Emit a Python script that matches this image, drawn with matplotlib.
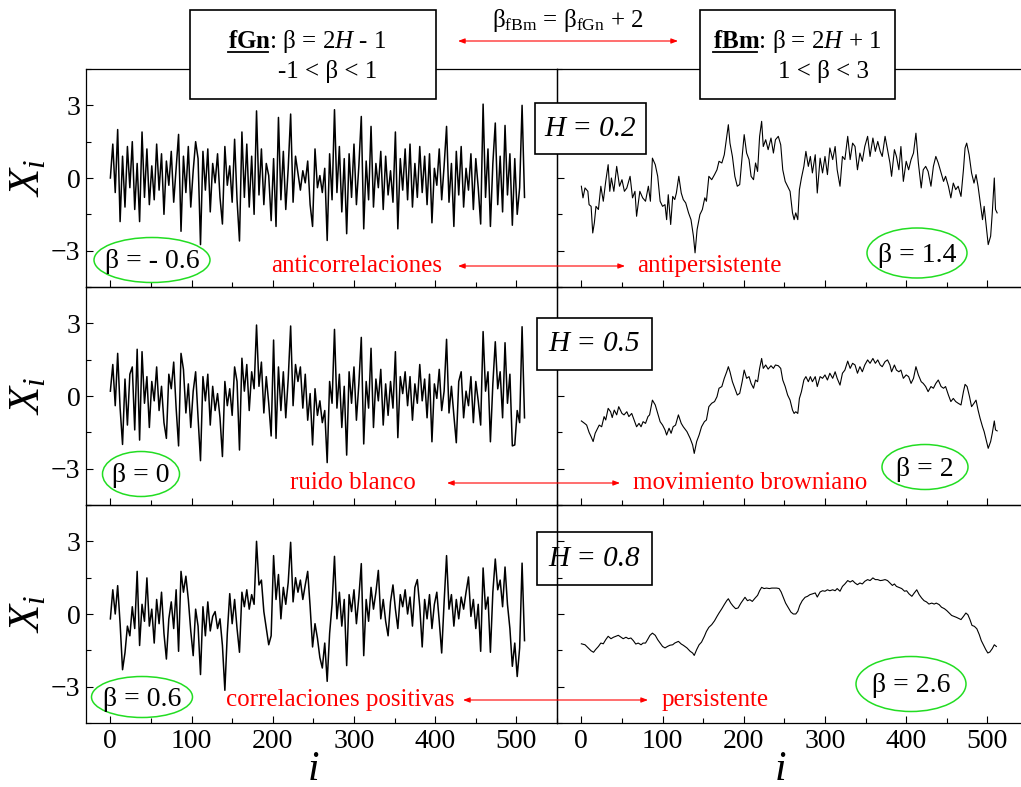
import numpy as np
import matplotlib
matplotlib.use('Agg')
import matplotlib.pyplot as plt
from matplotlib.patches import Rectangle, Ellipse, FancyArrowPatch
from matplotlib.lines import Line2D
from matplotlib.ticker import MultipleLocator

plt.rcParams['font.family'] = ['Liberation Serif', 'DejaVu Serif']
plt.rcParams['mathtext.fontset'] = 'custom'
plt.rcParams['mathtext.rm'] = 'Liberation Serif'
plt.rcParams['mathtext.it'] = 'Liberation Serif:italic'
plt.rcParams['mathtext.bf'] = 'Liberation Serif:bold'

# ---- fGn: ruido gaussiano fraccionario (un valor cada 3 pasos) ----
i_fgn = list(range(0, 512, 3))

fgn_02 = [0.0, 1.4, -0.6, 2.0, -1.8, 0.9, -1.2, 1.3, -0.4, 1.5,
          -1.3, 0.6, -1.8, 1.9, -0.8, 1.2, -1.1, 0.5, -0.9, 1.4,
          -0.5, 1.0, -1.5, 0.7, -0.3, 1.1, -1.0, 0.4, 1.8, -2.2,
          0.9, -0.6, 1.3, -1.2, 0.3, 1.5, 0.8, -2.75, 1.1, -0.5,
          1.2, -1.4, 0.6, -0.2, 1.0, -0.8, -1.9, 1.3, -0.3, 0.5,
          -1.0, 1.6, -0.9, -2.6, 1.9, -0.8, 1.4, -1.2, 0.9, -1.5,
          2.77, -0.7, 1.2, -1.1, 0.6, 0.1, -1.76, 0.8, -2.0, 2.5,
          -0.9, 1.1, -1.3, 0.4, 2.64, -1.0, 0.9, 0.2, -0.5, 0.3,
          -0.2, 0.7, -1.1, -2.0, 1.2, -0.4, 0.1, -0.6, 0.4, -2.58,
          1.0, -0.9, 2.82, -0.6, 1.3, -1.4, 0.8, -2.3, 1.0, -0.8,
          1.4, -1.1, 0.5, 2.54, -2.1, 0.7, -0.9, 2.13, -1.2, 0.6,
          -0.4, 1.1, -1.3, 0.9, -0.7, 0.3, -1.0, 1.9, -2.1, 0.8,
          -0.5, 1.2, -0.9, 1.4, -1.2, 0.6, -0.8, 1.3, -0.6, 0.9,
          -1.1, 1.0, -1.85, 0.4, -0.3, 1.2, -0.9, 0.5, 2.13, -1.0,
          0.6, -2.0, 1.1, -0.7, 1.3, -1.2, 0.4, -0.5, 1.0, -1.3,
          0.8, -0.4, -1.9, 3.05, -0.8, 1.2, -2.0, 0.6, 2.27, -1.1,
          0.9, -1.4, 2.17, -0.7, 1.0, -1.95, 0.8, -1.5, -0.4, 3.0,
          -0.8]

fgn_05 = [0.2, 1.3, -0.4, 1.76, -0.5, -2.0, 0.7, -1.2, 0.9, 1.2,
          -1.4, 1.93, -1.82, 1.83, -0.3, 0.8, -1.3, 0.6, -0.2, 1.2,
          -0.6, 0.4, -1.1, -1.75, 0.9, 0.3, 1.4, -0.5, -2.06, 1.76,
          1.1, -0.7, 0.5, -1.3, 0.2, 1.0, -0.9, -2.67, 0.8, -0.2,
          0.9, -1.2, 0.4, -0.6, 0.1, -0.9, -2.5, 0.6, -0.4, 0.3,
          -0.8, 1.2, 0.6, -2.23, 1.56, 0.2, 1.3, -0.6, 1.0, 0.3,
          2.93, 0.4, 1.4, -0.7, 0.8, -0.3, -1.65, 2.31, -1.75, 1.2,
          -0.6, 1.0, -0.9, 0.7, 2.89, -0.4, 1.3, 0.6, 1.2, -0.5,
          0.9, -1.0, 0.1, -2.02, 0.3, -0.8, -0.2, -1.1, -0.6, -2.75,
          0.6, -0.3, 2.75, -0.5, 0.9, -1.3, 0.4, -2.44, 1.0, -0.3,
          1.2, -1.0, 0.5, 2.42, -1.98, 0.6, -0.5, 1.97, -1.3, 0.7,
          -0.2, 1.1, -1.2, 0.5, -0.8, 0.6, -0.5, 1.83, -1.72, 0.8,
          0.1, 1.0, -0.4, 0.8, -1.0, 0.5, -0.3, 1.3, -0.2, 0.7,
          -0.9, 0.9, -1.89, 0.5, -0.1, 1.1, -0.6, 0.2, 2.34, -0.7,
          0.4, -0.8, -1.93, 0.6, 1.0, -0.9, 0.2, -0.4, 0.8, -1.1,
          0.6, -0.2, -1.2, 2.66, 0.2, 1.0, -1.89, 0.5, 2.24, 0.3,
          1.0, -0.9, 2.2, -0.3, 0.9, -2.06, -2.02, -0.6, -1.1, 2.86,
          -0.9]

fgn_08 = [-0.2, 1.0, 0.0, 1.17, -0.4, -2.3, -1.6, -0.5, -0.9, 0.3,
          -0.6, 1.76, -1.3, 0.4, -0.3, 1.49, -0.5, 0.2, -1.2, 0.6,
          -0.4, 0.9, -0.8, -1.86, -0.2, 0.5, -0.6, 1.0, -1.54, 1.76,
          0.9, 1.56, 0.6, -0.7, -1.72, 0.2, -0.5, -2.5, 0.3, -0.9,
          0.5, -0.7, -0.1, 0.1, -0.6, -0.2, -1.3, -3.15, -0.8, 0.84,
          -0.4, 0.6, -0.6, -1.58, 0.9, 0.3, 1.0, 0.2, 0.8, 0.4,
          3.0, 1.2, 1.4, 0.1, -0.6, -1.27, -0.9, 2.41, 0.6, 1.63,
          -0.2, 1.1, 0.4, 1.3, 2.96, 0.5, 1.5, 0.9, 1.4, 0.6,
          1.2, 1.76, 0.3, -1.36, -0.4, -1.0, -1.8, -2.23, -1.2, -2.78,
          -0.8, 0.4, 2.38, -0.2, 0.9, -0.5, 0.6, -2.13, 0.8, 0.1,
          1.0, -0.4, 0.7, 2.08, -1.72, 0.6, -0.3, 1.1, 0.2, 0.9,
          1.8, -0.2, 0.6, -0.3, -0.9, 0.5, 1.2, 0.2, -0.6, 0.8,
          0.3, 1.0, 0.0, 0.7, -0.5, 1.1, 1.42, 0.3, -1.36, 0.6,
          -0.2, 0.8, -0.6, 0.4, 0.9, -0.3, -1.61, 0.5, 2.41, 0.2,
          0.8, -0.5, 0.6, -0.2, 0.7, 0.2, 0.9, 1.53, -0.1, 0.6,
          -0.6, 0.4, -1.54, 1.9, 0.2, 0.7, -1.58, 0.9, 2.27, 1.0,
          1.4, 0.3, 1.94, 0.4, -0.6, -2.16, -1.2, -2.58, -1.4, 2.1,
          -1.1]

# ---- fBm: movimiento browniano fraccionario ----
i_fbm_02 = [0, 2, 4.5, 8, 9.5, 12, 14, 16, 18, 21, 24, 27, 30, 33, 35, 37, 40, 43.5, 47, 50,
            53, 56, 60, 63, 66, 68, 72, 75.5, 79, 82.5, 85, 87.5, 91, 94, 97, 100, 103, 105, 107, 110,
            112.5, 115, 117, 120, 123, 125.5, 128.5, 132, 135, 138, 140, 142.5, 146, 149, 152, 154, 157, 160.5, 164, 167,
            169.5, 173, 176, 179, 181, 183, 186, 189, 192, 195, 198, 200.5, 203.5, 206.5, 209, 212, 214.5, 217, 219.5, 222,
            224, 227, 230, 233.5, 236.5, 239, 242.5, 245.5, 248, 251, 254, 257, 260, 262, 264, 266.5, 268.5, 271, 274, 276.5,
            279.5, 282, 284.5, 288, 290.5, 294, 297, 300, 303, 306, 309.5, 312.5, 315, 318.5, 321.5, 324.5, 328, 331, 334, 337,
            340, 343, 346, 349, 352.5, 355.5, 359, 362, 365, 368, 370.5, 374, 377, 380, 382, 385.5, 388, 391, 393.5, 396.5,
            400, 403, 406, 409, 412, 415, 418.5, 421, 424, 427, 430.5, 433.5, 436.5, 439.5, 443, 446, 448.5, 452, 455, 458,
            461, 464, 467.5, 470.5, 472.5, 474.5, 477.5, 480.5, 483.5, 486, 488.5, 491, 494, 496, 499, 501, 504, 506, 508.5, 510,
            512]
fbm_02 = [-0.34, -0.82, -0.41, -0.55, -1.1, -1.17, -2.27, -1.85, -1.17, -1.3, -0.34, -0.96, -0.14, 0.55, -0.55, 0.0, -0.55, 0.48, -0.34, -0.07,
          -0.55, -0.41, 0.07, -0.82, -0.55, -1.58, -0.55, -0.82, -0.96, -0.34, -0.96, 0.82, 0.55, 0.07, -0.96, -1.17, -1.1, -1.72, -0.69, -1.92,
          -0.76, -0.89, -0.62, 0.07, -0.62, -0.89, -1.03, -1.44, -1.72, -2.4, -3.09, -2.13, -1.51, -1.3, -0.82, -0.96, 0.07, -0.07, 0.14, 0.34,
          0.69, 0.62, 0.96, 1.72, 2.2, 1.44, 0.89, 0.07, -0.34, -0.27, 0.89, 1.79, 1.03, 0.76, 0.07, -0.07, 0.62, 0.27, 1.72, 2.34,
          1.3, 1.58, 1.17, 1.65, 1.03, 1.58, 1.72, 1.37, 0.34, -0.14, -0.34, -0.55, -1.44, -1.72, -1.44, -1.72, -0.48, 0.0, 0.48, 1.1,
          0.48, 0.89, 0.21, 0.96, -0.62, 0.82, 0.21, 0.89, 0.14, 1.24, 0.76, 1.3, 0.34, -0.34, 0.89, 0.76, 1.72, 0.76, 1.44, 1.3,
          0.34, 1.03, 0.69, 1.3, 1.72, 0.89, 1.65, 1.1, 1.51, 1.1, 0.89, 1.72, 1.17, 0.62, 0.07, 1.17, 0.89, 0.34, 1.3, -0.14,
          0.69, 0.34, 0.76, 1.03, 1.85, 0.62, -0.41, 0.34, 0.48, 0.27, -0.34, 0.48, 0.89, 0.62, 0.21, -0.14, 0.07, -0.34, -0.82, -0.21,
          -0.48, -0.34, -0.76, 0.34, 1.24, 1.44, 0.96, 0.21, -0.21, 0.14, -0.34, -0.96, -1.72, -1.17, -2.13, -2.75, -2.4, -1.44, 0.0, -1.3,
          -1.44]

i_fbm_05 = [0, 4, 6.5, 9.5, 12, 14.5, 17, 19, 22, 25, 28, 30, 33, 36, 38, 40.5, 43.5, 46, 50, 52.5,
            56, 58.5, 62, 65, 68, 71, 73.5, 76, 79, 82, 84, 87.5, 91, 94, 97, 100, 103, 105, 108, 110.5,
            113, 116, 119.5, 123, 125.5, 130, 134, 137, 139, 142, 145, 148, 151.5, 154, 157, 160.5, 164, 167, 169.5, 173,
            176, 179, 181, 183, 186, 189, 192, 195, 198, 200.5, 203.5, 206.5, 209, 212, 214.5, 217, 219.5, 222, 224, 227,
            230, 233.5, 236.5, 239, 242.5, 245.5, 248, 251, 254, 257, 260, 262, 264, 266.5, 268.5, 271, 274, 276.5, 279.5, 282,
            284.5, 288, 290.5, 294, 297, 300, 303, 306, 309.5, 312.5, 315, 318.5, 321.5, 324.5, 328, 331, 334, 337, 340, 343,
            346, 349, 352.5, 355.5, 359, 362, 365, 368, 370.5, 374, 377, 380, 382, 385.5, 388, 391, 393.5, 396.5, 400, 403,
            406, 409, 412, 415, 418.5, 421, 424, 427, 430.5, 433.5, 436.5, 439.5, 443, 446, 448.5, 452, 455, 458, 461, 464,
            467.5, 470.5, 472.5, 475, 478, 480.5, 483.5, 486, 488.5, 491, 494, 496, 499, 501, 504, 506, 508.5, 510, 512]
fbm_05 = [-1.03, -1.13, -1.2, -1.5, -1.68, -1.88, -1.54, -1.4, -1.2, -1.27, -0.85, -0.99, -0.51, -0.65, -0.89, -0.58, -0.78, -0.44, -0.72, -0.78,
          -0.65, -0.85, -0.72, -0.99, -1.27, -1.13, -1.27, -1.06, -1.13, -0.85, -0.78, -0.17, -0.37, -0.72, -1.06, -1.2, -1.4, -1.61, -1.33, -1.54,
          -1.27, -1.2, -0.78, -1.13, -1.27, -1.47, -1.75, -2.02, -2.37, -1.88, -1.61, -1.27, -1.06, -0.99, -0.44, -0.3, -0.23, -0.03, 0.32, 0.39,
          0.73, 1.0, 1.21, 1.0, 0.59, 0.32, 0.04, 0.11, 0.59, 1.07, 0.73, 0.8, 0.52, 0.32, 0.66, 0.59, 1.14, 1.55, 1.14, 1.28,
          1.11, 1.25, 1.14, 1.28, 1.25, 1.14, 0.66, 0.39, 0.04, -0.17, -0.58, -0.72, -0.65, -0.72, -0.1, 0.18, 0.66, 0.8, 0.59, 0.8,
          0.59, 0.8, 0.39, 0.8, 0.73, 0.87, 0.66, 0.94, 0.73, 1.0, 0.73, 0.45, 0.94, 1.07, 1.44, 1.14, 1.35, 1.28, 0.94, 1.21,
          1.0, 1.28, 1.49, 1.35, 1.55, 1.35, 1.49, 1.28, 1.21, 1.42, 1.49, 1.28, 1.0, 1.28, 1.07, 1.0, 1.07, 0.73, 0.87, 0.8,
          0.52, 0.73, 1.21, 0.87, 0.59, 0.52, 0.39, 0.18, 0.39, 0.32, 0.52, 0.66, 0.39, 0.32, 0.39, 0.04, -0.23, -0.1, -0.23, -0.3,
          -0.37, 0.18, 0.48, 0.39, -0.03, -0.44, -0.3, -0.17, -0.58, -0.92, -1.27, -1.47, -1.88, -2.16, -1.88, -1.54, -1.03, -1.4, -1.44]

i_fbm_08 = [0, 4.5, 8.5, 12, 15, 17.5, 21, 24, 27, 30, 33, 36.5, 39.5, 42.5, 45.5, 49, 51.5, 55, 58, 61,
            64, 67, 70, 73.5, 76, 79, 81.5, 84.5, 87.5, 91, 94, 97, 100, 103, 106, 109, 112.5, 115, 119.5, 123,
            125.5, 130, 134, 137, 139, 142, 145, 148, 151.5, 154, 157, 160.5, 164, 167, 169.5, 173, 176, 179, 181, 184,
            187, 190, 193, 196.5, 199.5, 201.5, 204.5, 207.5, 210.5, 214, 217, 219.5, 222, 225, 228, 231.5, 234.5, 237.5, 240.5, 243.5,
            246, 249, 251.5, 255, 258, 261, 264, 266.5, 269, 272, 275.5, 278.5, 281.5, 284.5, 288, 290.5, 294, 297, 300, 303,
            306, 309.5, 312.5, 315, 318.5, 321.5, 324.5, 328, 331, 334, 337, 340, 343, 346, 349, 352.5, 355.5, 359, 362, 365,
            368, 370.5, 374, 377, 380, 383, 385.5, 388, 391, 394.5, 398, 400.5, 403.5, 407, 410, 413, 416, 419, 422, 425,
            428, 431.5, 434.5, 437, 440.5, 443.5, 447, 450, 453, 456, 459, 462, 465, 467.5, 470.5, 473.5, 476, 478.5, 481, 484,
            487, 490, 492.5, 495, 498, 500.5, 503, 506, 508.5, 511]
fbm_08 = [-1.23, -1.27, -1.4, -1.52, -1.58, -1.47, -1.34, -1.2, -1.23, -1.06, -0.92, -1.02, -0.96, -0.92, -0.88, -0.96, -1.02, -0.96, -1.02, -0.99,
          -1.1, -1.24, -1.2, -1.27, -1.2, -1.2, -1.06, -0.88, -0.79, -0.88, -1.06, -1.2, -1.34, -1.4, -1.34, -1.29, -1.27, -1.2, -1.13, -1.24,
          -1.29, -1.4, -1.54, -1.61, -1.71, -1.47, -1.27, -1.16, -0.92, -0.72, -0.55, -0.44, -0.28, -0.1, 0.04, 0.22, 0.39, 0.55, 0.63, 0.45,
          0.32, 0.22, 0.25, 0.45, 0.59, 0.69, 0.55, 0.59, 0.52, 0.66, 0.77, 0.96, 1.1, 1.05, 1.07, 1.05, 1.07, 1.07, 1.07, 1.05,
          0.91, 0.66, 0.45, 0.25, 0.08, 0.0, 0.0, 0.11, 0.36, 0.55, 0.69, 0.73, 0.8, 0.83, 0.87, 0.7, 0.91, 0.96, 0.94, 1.0,
          0.96, 1.0, 0.96, 1.05, 0.94, 1.14, 1.24, 1.38, 1.32, 1.38, 1.28, 1.21, 1.28, 1.24, 1.35, 1.42, 1.38, 1.49, 1.42, 1.42,
          1.38, 1.39, 1.42, 1.38, 1.28, 1.18, 1.24, 1.14, 1.1, 1.05, 0.94, 0.96, 0.83, 0.73, 0.87, 1.0, 0.8, 0.66, 0.55, 0.5,
          0.41, 0.45, 0.41, 0.45, 0.39, 0.28, 0.22, 0.14, 0.04, -0.06, -0.1, -0.14, -0.19, -0.23, -0.1, 0.04, -0.03, -0.23, -0.47, -0.51,
          -0.61, -0.85, -1.1, -1.27, -1.47, -1.61, -1.57, -1.43, -1.27, -1.34]

W, H = 1021, 787


def fx(x):
    return x / W


def fy(y):
    return 1 - y / H


fig = plt.figure(figsize=(W / 100, H / 100), dpi=100)

col_x = [86, 557]
col_w = 471
row_top = [69, 287, 505]
row_h = 218
xlabel_pos = [0.482, 0.473]

fgn_list = [fgn_02, fgn_05, fgn_08]
fbm_list = [(i_fbm_02, fbm_02), (i_fbm_05, fbm_05), (i_fbm_08, fbm_08)]

axes = []
for r in range(3):
    for c in range(2):
        ax = fig.add_axes([fx(col_x[c]), fy(row_top[r] + row_h), col_w / W, row_h / H])
        if c == 0:
            ax.plot(i_fgn, fgn_list[r], color='black', lw=1.1)
        else:
            ax.plot(fbm_list[r][0], fbm_list[r][1], color='black', lw=0.8)
        ax.set_xlim(-30, 550)
        ax.set_ylim(-4.5, 4.5)
        ax.xaxis.set_major_locator(MultipleLocator(100))
        ax.xaxis.set_minor_locator(MultipleLocator(50))
        ax.yaxis.set_major_locator(MultipleLocator(3))
        ax.yaxis.set_minor_locator(MultipleLocator(1.5))
        ax.tick_params(which='both', direction='in', top=False, right=False, width=0.8,
                       labelsize=20, pad=4)
        ax.tick_params(which='major', length=5)
        ax.tick_params(which='minor', length=3.5)
        for s in ax.spines.values():
            s.set_linewidth(0.9)
        if c == 1:
            ax.tick_params(labelleft=False)
            ax.spines['right'].set_visible(False)
        else:
            ax.set_ylabel(r'$X_i$', fontsize=32, labelpad=2)
        if r < 2:
            ax.tick_params(labelbottom=False)
        else:
            ax.set_xlabel(r'$i$', fontsize=30)
            ax.xaxis.set_label_coords(xlabel_pos[c], -0.125)
        ax.patch.set_alpha(0)
        axes.append(ax)

# cajas de definiciones arriba
for x0, x1 in [(190, 436), (700, 895)]:
    fig.add_artist(Rectangle((fx(x0), fy(99)), (x1 - x0) / W, 89 / H, transform=fig.transFigure,
                             facecolor='white', edgecolor='black', lw=1.2, zorder=5))

fig.text(fx(228), fy(48), r'$\mathbf{fGn}$: β = 2$\mathit{H}$ - 1', fontsize=18, ha='left',
         va='baseline', zorder=6)
fig.text(fx(278), fy(78), '-1 < β < 1', fontsize=18, ha='left', va='baseline', zorder=6)
fig.add_artist(Line2D([fx(228), fx(268)], [fy(51.5), fy(51.5)], color='black', lw=1.3, zorder=6))

fig.text(fx(713), fy(48), r'$\mathbf{fBm}$: β = 2$\mathit{H}$ + 1', fontsize=18, ha='left',
         va='baseline', zorder=6)
fig.text(fx(778), fy(78), '1 < β < 3', fontsize=18, ha='left', va='baseline', zorder=6)
fig.add_artist(Line2D([fx(713), fx(757)], [fy(51.5), fy(51.5)], color='black', lw=1.3, zorder=6))

fig.text(fx(568), fy(27), r'β$_{\mathrm{fBm}}$ = β$_{\mathrm{fGn}}$ + 2', fontsize=18,
         ha='center', va='baseline', zorder=6)


def red_arrow(x0, x1, y):
    fig.add_artist(FancyArrowPatch((fx(x0), fy(y)), (fx(x1), fy(y)), transform=fig.transFigure,
                                   arrowstyle='<|-|>,head_length=4,head_width=1.5',
                                   color='red', lw=0.8, shrinkA=0, shrinkB=0, zorder=6))


red_arrow(458, 678, 41)

# cajas con el exponente de Hurst
h_boxes = [(535, 103, 646, 154, 'H = 0.2', True),
           (537, 318, 652, 370, 'H = 0.5', True),
           (537, 532, 652, 585, 'H = 0.8', False)]
for x0, y0, x1, y1, txt, filled in h_boxes:
    fig.add_artist(Rectangle((fx(x0), fy(y1)), (x1 - x0) / W, (y1 - y0) / H, transform=fig.transFigure,
                             facecolor='white' if filled else 'none', edgecolor='black', lw=1.2, zorder=5))
    fig.text(fx((x0 + x1) / 2), fy((y0 + y1) / 2), txt, fontsize=21, style='italic',
             ha='center', va='center', zorder=6)

# elipses verdes con el valor de beta
ellipses = [(152, 260, 116, 45, 'β = - 0.6'),
            (917, 253, 100, 50, 'β = 1.4'),
            (141, 474, 77, 45, 'β = 0'),
            (925, 467, 86, 45, 'β = 2'),
            (142, 697, 101, 41, 'β = 0.6'),
            (911, 684, 110, 55, 'β = 2.6')]
for cx, cy, ew, eh, txt in ellipses:
    fig.add_artist(Ellipse((fx(cx), fy(cy)), ew / W, eh / H, transform=fig.transFigure,
                           facecolor='none', edgecolor='#22dd22', lw=1.1, zorder=6))
    fig.text(fx(cx), fy(cy + 2), txt, fontsize=20, ha='center', va='center', zorder=7)

# etiquetas rojas y flechas entre columnas
red_rows = [(266, 'anticorrelaciones', 442, 458, 625, 'antipersistente', 637),
            (483, 'ruido blanco', 416, 447, 620, 'movimiento browniano', 633),
            (700, 'correlaciones positivas', 454, 463, 648, 'persistente', 662)]
for y, left_txt, left_end, a0, a1, right_txt, right_start in red_rows:
    fig.text(fx(left_end), fy(y), left_txt, color='red', fontsize=18, ha='right', va='center', zorder=6)
    fig.text(fx(right_start), fy(y), right_txt, color='red', fontsize=18, ha='left', va='center', zorder=6)
    red_arrow(a0, a1, y)

fig.savefig('out.png', dpi=100)
